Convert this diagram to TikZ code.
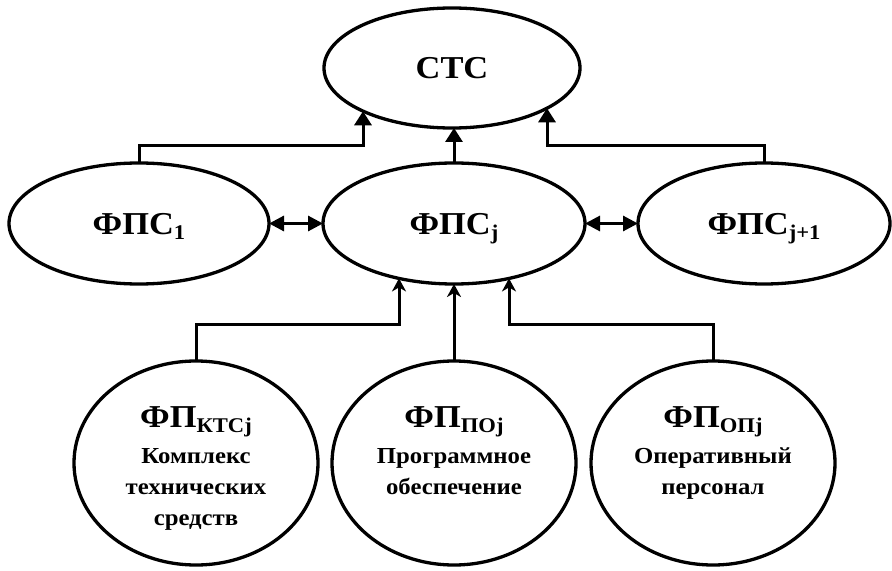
\documentclass[tikz,border=0pt]{standalone}
\usepackage{fontspec}
\setmainfont[FakeStretch=1.08]{Liberation Serif}
\usetikzlibrary{arrows.meta,shapes.geometric}
% lowered index set in a smaller size
\newcommand{\lowidx}[1]{\raisebox{-5bp}{\fontsize{21}{21}\selectfont #1}}
\begin{document}
\begin{tikzpicture}[x=1bp,y=-1bp,
  blob/.style={ellipse, draw, line width=3.3bp, inner sep=0pt, outer sep=0pt,
    font=\bfseries\fontsize{32}{32}\selectfont, text height=22bp, text depth=0bp},
  round/.style={ellipse, draw, line width=3.3bp, inner sep=0pt, outer sep=0pt,
    minimum width=244bp, minimum height=204bp},
  caption/.style={align=center, anchor=north, inner sep=0pt,
    font=\bfseries\fontsize{23}{31}\selectfont},
  link/.style={line width=3bp},
  upTri/.style={link, -{Triangle[length=14bp,width=17bp]}},
  both/.style={link, {Triangle[length=15bp,width=15bp]}-{Triangle[length=15bp,width=15bp]}},
  upStealth/.style={link, -{Stealth[length=13bp,width=14bp,inset=4bp]}}]
\useasboundingbox (0,0) rectangle (892,571);

% upper level
\node[blob, minimum width=256bp, minimum height=120bp] (stc) at (452,68) {СТС};

% middle level
\node[blob, minimum width=260bp, minimum height=121bp] (fps1) at (139,223.5) {ФПС\lowidx{1}};
\node[blob, minimum width=262bp, minimum height=121bp] (fpsj) at (454,223.5) {ФПС\lowidx{j}};
\node[blob, minimum width=252bp, minimum height=121bp] (fpsn) at (764,223.5) {ФПС\lowidx{j+1}};

% lower level
\node[round] (kts) at (196,463) {};
\node[round] (po) at (454,463) {};
\node[round] (op) at (713,463) {};

\node[caption] (ktsT) at (196,406) {{\fontsize{32}{32}\selectfont ФП}\lowidx{КТСj}\\[6bp]Комплекс\\технических\\средств};
\node[caption] (poT) at (454,406) {{\fontsize{32}{32}\selectfont ФП}\lowidx{ПОj}\\[6bp]Программное\\обеспечение};
\node[caption] (opT) at (713,406) {{\fontsize{32}{32}\selectfont ФП}\lowidx{ОПj}\\[6bp]Оперативный\\персонал};

% connectors to the upper level
\coordinate (s1) at (363,146);
\coordinate (s2) at (547,146);
\draw[upTri] (fps1.north) |- (s1) -- (s1 |- stc.206);
\draw[upTri] (fpsj.north) -- (fpsj.north |- stc.south);
\draw[upTri] (fpsn.north) |- (s2) -- (s2 |- stc.337);

% links within the middle level
\draw[both] (fps1.east) -- (fpsj.west);
\draw[both] (fpsj.east) -- (fpsn.west);

% connectors from the lower level
\coordinate (b1) at (399,324);
\coordinate (b2) at (509,324);
\draw[upStealth] (kts.north) |- (b1) -- (b1 |- fpsj.225);
\draw[upStealth] (po.north) -- (po.north |- fpsj.south);
\draw[upStealth] (op.north) |- (b2) -- (b2 |- fpsj.315);
\end{tikzpicture}
\end{document}
